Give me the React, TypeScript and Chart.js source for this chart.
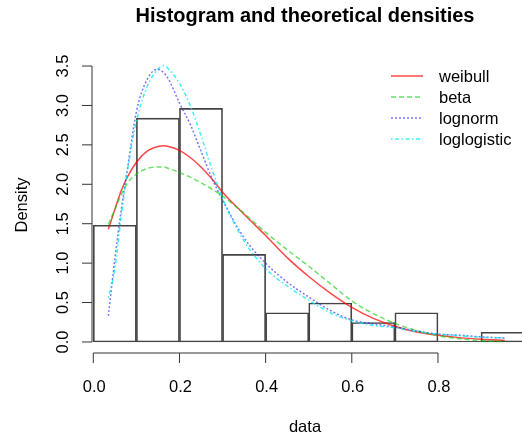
import React, { useEffect, useRef } from 'react';
import { Chart, registerables } from 'chart.js';

Chart.register(...registerables);

// ---- data ----
const binMids = [0.05, 0.15, 0.25, 0.35, 0.45, 0.55, 0.65, 0.75, 0.85, 0.95];
const binDensity = [1.481, 2.84, 2.963, 1.111, 0.37, 0.494, 0.247, 0.37, 0, 0.123];
const binRange = [0, 1];

const curveX = [0.035, 0.05, 0.065, 0.08, 0.1, 0.125, 0.15, 0.1625, 0.175, 0.2, 0.225, 0.25, 0.275, 0.3, 0.35, 0.4, 0.45, 0.5, 0.55, 0.6, 0.65, 0.7, 0.75, 0.8, 0.85, 0.9, 0.955];
const weibullY = [1.43, 1.68, 1.92, 2.1, 2.28, 2.42, 2.48, 2.49, 2.48, 2.43, 2.34, 2.22, 2.07, 1.9, 1.62, 1.35, 1.07, 0.83, 0.62, 0.44, 0.3, 0.2, 0.125, 0.085, 0.055, 0.035, 0.02];
const betaY = [1.49, 1.68, 1.87, 2.02, 2.13, 2.2, 2.22, 2.22, 2.2, 2.15, 2.09, 2.02, 1.94, 1.85, 1.63, 1.39, 1.17, 0.96, 0.74, 0.52, 0.36, 0.235, 0.145, 0.08, 0.04, 0.015, 0.004];
const lognormY = [0.33, 1.05, 1.68, 2.22, 2.92, 3.33, 3.46, 3.42, 3.33, 3.03, 2.76, 2.42, 2.08, 1.8, 1.32, 1.0, 0.76, 0.57, 0.4, 0.28, 0.23, 0.19, 0.14, 0.1, 0.085, 0.065, 0.05];
const loglogisticY = [0.56, 0.92, 1.6, 2.2, 2.8, 3.24, 3.46, 3.5, 3.46, 3.28, 3.0, 2.62, 2.2, 1.82, 1.28, 0.93, 0.71, 0.53, 0.37, 0.27, 0.21, 0.18, 0.13, 0.1, 0.08, 0.06, 0.05];

const seriesNames = ['weibull', 'beta', 'lognorm', 'loglogistic'];
const seriesColors = ['rgba(255,0,0,0.72)', 'rgba(0,205,0,0.6)', 'rgba(30,30,255,0.6)', 'rgba(0,235,235,0.75)'];
const seriesDashes: number[][] = [[], [5, 3], [2, 2], [1.5, 2.5, 4, 2.5]];

const xTicks = [0, 0.2, 0.4, 0.6, 0.8];
const xTickLabels = ['0.0', '0.2', '0.4', '0.6', '0.8'];
const yTicks = [0, 0.5, 1, 1.5, 2, 2.5, 3, 3.5];
const yTickLabels = ['0.0', '0.5', '1.0', '1.5', '2.0', '2.5', '3.0', '3.5'];

const titleText = 'Histogram and theoretical densities';
const xTitle = 'data';
const yTitle = 'Density';

const FONT = '"Liberation Sans", Arial, Helvetica, sans-serif';
const AXIS_COLOR = '#333';
const LINE_W = 1.5;

const rPlugin = {
  id: 'rStyle',
  beforeDatasetsDraw(chart: any) {
    const ctx = chart.ctx;
    const xs = chart.scales.x;
    const ys = chart.scales.y;
    ctx.save();
    ctx.strokeStyle = '#444';
    ctx.lineWidth = 1;
    ctx.beginPath();
    const y0 = ys.getPixelForValue(0) - 0.5;
    ctx.moveTo(xs.getPixelForValue(binRange[0]), y0);
    ctx.lineTo(xs.getPixelForValue(binRange[1]), y0);
    ctx.stroke();
    ctx.restore();
  },
  afterDraw(chart: any) {
    const ctx = chart.ctx;
    const xs = chart.scales.x;
    const ys = chart.scales.y;
    const ca = chart.chartArea;
    ctx.save();
    ctx.strokeStyle = AXIS_COLOR;
    ctx.fillStyle = '#000';
    ctx.lineWidth = 1;
    const tick = 10;

    // y axis
    const ax = ca.left;
    ctx.beginPath();
    ctx.moveTo(ax, ys.getPixelForValue(yTicks[0]));
    ctx.lineTo(ax, ys.getPixelForValue(yTicks[yTicks.length - 1]));
    yTicks.forEach((v) => {
      const py = ys.getPixelForValue(v);
      ctx.moveTo(ax - tick, py);
      ctx.lineTo(ax, py);
    });
    ctx.stroke();
    ctx.font = `16.5px ${FONT}`;
    ctx.textAlign = 'center';
    ctx.textBaseline = 'alphabetic';
    yTicks.forEach((v, i) => {
      const py = ys.getPixelForValue(v);
      ctx.save();
      ctx.translate(ca.left - 24.5, py);
      ctx.rotate(-Math.PI / 2);
      ctx.fillText(yTickLabels[i], 0, 0);
      ctx.restore();
    });

    // x axis
    const ay = ca.bottom;
    ctx.beginPath();
    ctx.moveTo(xs.getPixelForValue(xTicks[0]), ay);
    ctx.lineTo(xs.getPixelForValue(xTicks[xTicks.length - 1]), ay);
    xTicks.forEach((v) => {
      const px = xs.getPixelForValue(v);
      ctx.moveTo(px, ay);
      ctx.lineTo(px, ay + tick);
    });
    ctx.stroke();
    xTicks.forEach((v, i) => {
      ctx.fillText(xTickLabels[i], xs.getPixelForValue(v) + 1, ay + 38.5);
    });

    // axis titles
    ctx.fillText(xTitle, (ca.left + ca.right) / 2 - 2, ay + 78.5);
    ctx.save();
    ctx.translate(ca.left - 65.5, (ca.top + ca.bottom) / 2 + 1);
    ctx.rotate(-Math.PI / 2);
    ctx.fillText(yTitle, 0, 0);
    ctx.restore();

    // title
    ctx.font = `bold 20px ${FONT}`;
    ctx.fillText(titleText, (ca.left + ca.right) / 2 - 2, 22);

    // legend
    ctx.font = `16.5px ${FONT}`;
    ctx.textAlign = 'left';
    ctx.textBaseline = 'middle';
    seriesNames.forEach((name, i) => {
      const y = ca.top + 21 + i * 21;
      ctx.save();
      ctx.strokeStyle = seriesColors[i];
      ctx.lineWidth = LINE_W;
      ctx.setLineDash(seriesDashes[i]);
      ctx.beginPath();
      ctx.moveTo(ca.right - 131, y);
      ctx.lineTo(ca.right - 99, y);
      ctx.stroke();
      ctx.restore();
      ctx.fillStyle = '#000';
      ctx.fillText(name, ca.right - 83, y + 1);
    });
    ctx.restore();
  },
};

export default function App() {
  const ref = useRef<HTMLCanvasElement | null>(null);
  useEffect(() => {
    if (!ref.current) return;
    const curveSets = [weibullY, betaY, lognormY, loglogisticY];
    const lineDatasets = curveSets.map((ys, i) => ({
      type: 'line' as const,
      label: seriesNames[i],
      data: curveX.map((x, j) => ({ x, y: ys[j] })),
      borderColor: seriesColors[i],
      borderWidth: LINE_W,
      borderDash: seriesDashes[i],
      pointRadius: 0,
      fill: false,
      cubicInterpolationMode: 'monotone' as const,
      order: 4 - i,
    }));
    const chart = new Chart(ref.current, {
      type: 'bar',
      data: {
        datasets: [
          {
            type: 'bar' as const,
            label: 'hist',
            data: binMids.map((x, i) => ({ x, y: binDensity[i] })),
            backgroundColor: 'rgba(0,0,0,0)',
            borderColor: '#444',
            borderWidth: 1,
            borderSkipped: false,
            barPercentage: 1,
            categoryPercentage: 1,
            order: 10,
          } as any,
          ...lineDatasets,
        ],
      },
      options: {
        responsive: false,
        animation: false,
        devicePixelRatio: 1,
        events: [],
        layout: { padding: { left: 92, right: 0, top: 55, bottom: 85 } },
        plugins: { legend: { display: false }, tooltip: { enabled: false }, title: { display: false } },
        scales: {
          x: {
            type: 'linear',
            min: -0.003,
            max: 0.995,
            offset: false,
            display: false,
            afterBuildTicks: (s: any) => {
              s.ticks = xTicks.map((v) => ({ value: v }));
            },
          },
          y: {
            type: 'linear',
            min: -0.14,
            max: 3.64,
            display: false,
            afterBuildTicks: (s: any) => {
              s.ticks = yTicks.map((v) => ({ value: v }));
            },
          },
        },
      },
      plugins: [rPlugin],
    } as any);
    return () => chart.destroy();
  }, []);
  return (
    <div style={{ position: 'absolute', left: 0, top: 0, width: 522, height: 438, background: '#fff' }}>
      <canvas ref={ref} width={522} height={438} style={{ display: 'block' }} />
    </div>
  );
}
